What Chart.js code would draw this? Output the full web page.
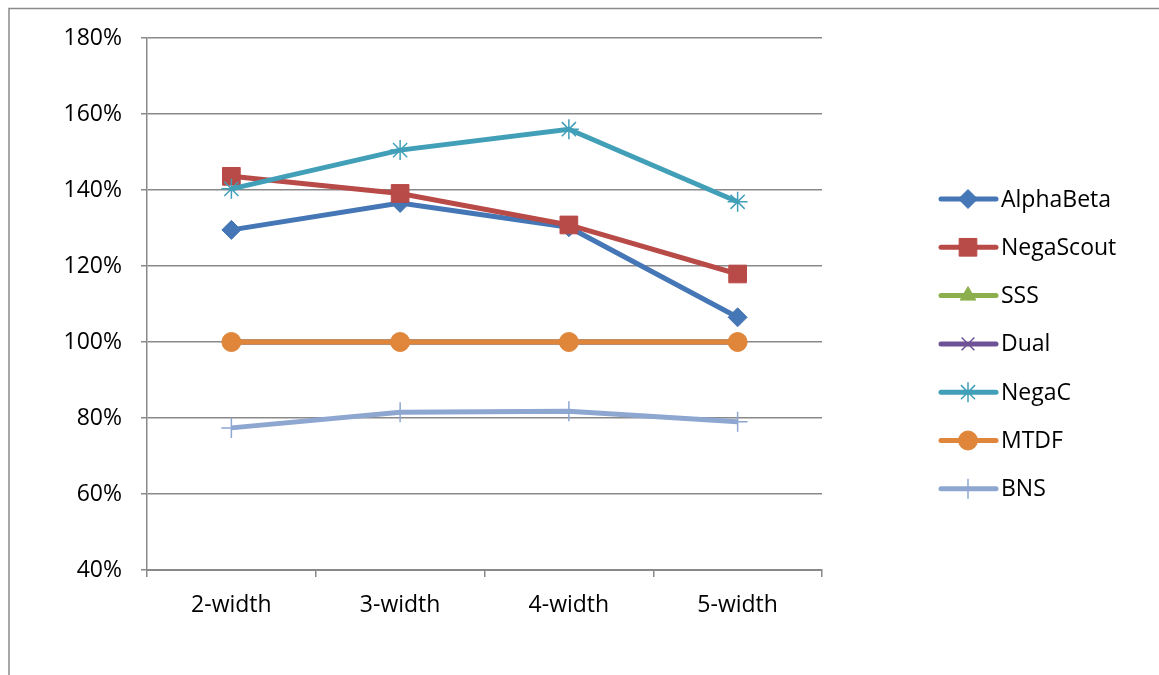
<!DOCTYPE html>
<html>
<head>
<meta charset="utf-8">
<script src="https://cdn.jsdelivr.net/npm/chart.js@4/dist/chart.umd.min.js"></script>
<style>
  html, body { margin: 0; padding: 0; background: #fff; }
  #wrap { width: 1159px; height: 675px; }
</style>
</head>
<body>
<div id="wrap"><canvas id="c" width="1159" height="675"></canvas></div>
<script>
const categories = ['2-width', '3-width', '4-width', '5-width'];
const seriesNames = ['AlphaBeta', 'NegaScout', 'SSS', 'Dual', 'NegaC', 'MTDF', 'BNS'];
const alphaBeta = [129.5, 136.6, 130.2, 106.5];
const negaScout = [143.6, 139.1, 130.8, 117.9];
const sss = [100, 100, 100, 100];
const dual = [100, 100, 100, 100];
const negaC = [140.3, 150.5, 156.0, 136.9];
const mtdf = [100, 100, 100, 100];
const bns = [77.4, 81.5, 81.8, 79.0];
const yTicks = { min: 40, max: 180, step: 20 };

const FONT = '"Open Sans", "Liberation Sans", sans-serif';
const GRID = '#898989';

const styles = [
  { color: '#4576B5', point: 'rectRot', r: 9.5, bw: 1 },
  { color: '#B84A47', point: 'rect', r: 12.5, bw: 1 },
  { color: '#8CAF4E', point: 'triangle', r: 9, bw: 1 },
  { color: '#6E5296', point: 'crossRot', r: 9, bw: 1.5 },
  { color: '#419FB8', point: 'star', r: 10, bw: 1.5 },
  { color: '#E0863A', point: 'circle', r: 9.5, bw: 1 },
  { color: '#8DA7D1', point: 'cross', r: 10, bw: 1.5 }
];
const values = [alphaBeta, negaScout, sss, dual, negaC, mtdf, bns];

const datasets = seriesNames.map((name, i) => ({
  label: name,
  data: values[i],
  borderColor: styles[i].color,
  backgroundColor: styles[i].color,
  pointBackgroundColor: styles[i].color,
  pointBorderColor: styles[i].color,
  pointStyle: styles[i].point,
  pointRadius: styles[i].r,
  pointBorderWidth: styles[i].bw,
  pointHoverRadius: styles[i].r,
  borderWidth: 5,
  tension: 0,
  fill: false,
  order: seriesNames.length - i
}));

const framePlugin = {
  id: 'frame',
  beforeDraw(chart) {
    const ctx = chart.ctx;
    ctx.save();
    ctx.fillStyle = '#fff';
    ctx.fillRect(0, 0, chart.width, chart.height);
    ctx.strokeStyle = '#8a8a8a';
    ctx.lineWidth = 1.5;
    ctx.beginPath();
    ctx.moveTo(9, chart.height + 2);
    ctx.lineTo(9, 8.5);
    ctx.lineTo(chart.width + 2, 8.5);
    ctx.stroke();
    ctx.restore();
  }
};

const legendPlugin = {
  id: 'customLegend',
  afterDraw(chart) {
    const ctx = chart.ctx;
    const x0 = 941, x1 = 996, xm = 968, xt = 1001;
    const yStart = 199, gap = 48.3;
    chart.data.datasets.forEach((ds, i) => {
      const y = yStart + i * gap;
      ctx.save();
      ctx.strokeStyle = ds.borderColor;
      ctx.lineWidth = 5;
      ctx.lineCap = 'round';
      ctx.beginPath();
      ctx.moveTo(x0, y);
      ctx.lineTo(x1, y);
      ctx.stroke();
      ctx.restore();
      const meta = chart.getDatasetMeta(i);
      const el = meta.data[0];
      if (el) {
        const ox = el.x, oy = el.y;
        el.x = xm; el.y = y;
        el.draw(ctx);
        el.x = ox; el.y = oy;
      }
      ctx.save();
      ctx.fillStyle = '#000';
      ctx.font = '23px ' + FONT;
      ctx.textBaseline = 'middle';
      ctx.textAlign = 'left';
      ctx.fillText(ds.label, xt, y + 1);
      ctx.restore();
    });
  }
};

new Chart(document.getElementById('c'), {
  type: 'line',
  data: { labels: categories, datasets },
  options: {
    responsive: false,
    devicePixelRatio: 1,
    animation: false,
    events: [],
    layout: { padding: { left: 0, top: 38, right: 337, bottom: 0 } },
    plugins: {
      legend: { display: false },
      tooltip: { enabled: false },
      title: { display: false }
    },
    scales: {
      x: {
        offset: true,
        grid: {
          offset: true,
          drawOnChartArea: false,
          drawTicks: true,
          tickLength: 7,
          color: GRID,
          lineWidth: 1.5
        },
        border: { color: GRID, width: 2 },
        ticks: {
          color: '#000',
          font: { family: FONT, size: 23 },
          padding: 15,
          maxRotation: 0
        },
        afterFit(scale) { scale.height = 105; }
      },
      y: {
        min: yTicks.min,
        max: yTicks.max,
        grid: {
          color: GRID,
          lineWidth: 1.5,
          drawTicks: true,
          tickLength: 6
        },
        border: { color: GRID, width: 1.5 },
        ticks: {
          stepSize: yTicks.step,
          color: '#000',
          font: { family: FONT, size: 23 },
          padding: 19,
          callback: v => v + '%'
        },
        afterFit(scale) { scale.width = 147; }
      }
    }
  },
  plugins: [framePlugin, legendPlugin]
});
</script>
</body>
</html>
